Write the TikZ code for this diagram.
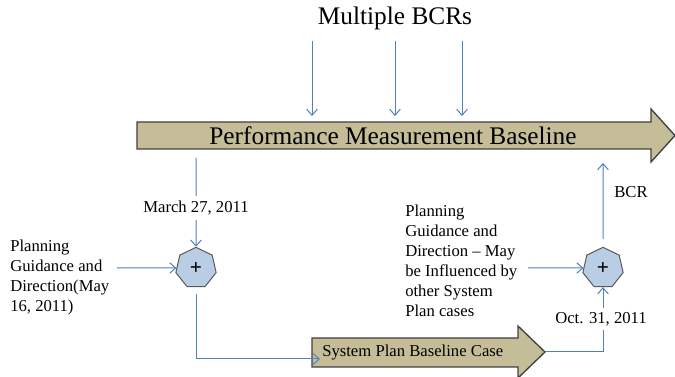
\documentclass[tikz,border=0pt]{standalone}
\usepackage{fontspec}
\setmainfont{Liberation Serif}
\usetikzlibrary{shapes.geometric,arrows.meta}

\definecolor{pmbtan}{HTML}{C4BD97}
\definecolor{linkblue}{HTML}{4F81BD}
\definecolor{plusfill}{HTML}{B9CDE5}

\def\bigsize{\fontsize{19}{23}\selectfont}
\def\smallsize{\fontsize{12.5}{15}\selectfont}

\begin{document}
\begin{tikzpicture}[x=0.75pt, y=-0.75pt, >={Straight Barb[length=4.5pt,width=8pt]}]
    \tikzstyle{link}=[->, draw=linkblue, line width=0.75pt]
    \tikzstyle{bar}=[-, draw=black!75, line width=1pt, fill=pmbtan]
    \tikzstyle{plus}=[regular polygon, regular polygon sides=7, minimum size=31pt, inner sep=0pt,
        draw=black!65, line width=0.75pt, fill=plusfill, font=\bfseries\fontsize{16}{16}\selectfont]
    \tikzstyle{note}=[align=left, anchor=west, inner sep=0pt, font=\smallsize]
    \tikzstyle{date}=[fill=white, inner xsep=2pt, inner ysep=3.5pt, font=\smallsize]

    \useasboundingbox (0,0) rectangle (675,377);

    \draw[bar] (137,122) -- (651,122) -- (651,109) -- (675,135.5) -- (651,162) -- (651,149) -- (137,149) -- cycle;
    \draw[bar] (312,338) -- (518,338) -- (518,326) -- (545,352) -- (518,378) -- (518,367) -- (312,367) -- cycle;

    \node[font=\bigsize] (bcrs) at (395,18) {Multiple BCRs};
    \node[font=\bigsize] (pmb) at (393,136) {Performance Measurement Baseline};
    \node[font=\smallsize, anchor=base west, inner sep=0pt] (spbc) at (322,357) {System Plan Baseline Case};

    \node[plus] (lplus) at (196,268) {+};
    \node[plus] (rplus) at (603,268) {+};

    \node[note] (lnote) at (10,277.5) {Planning\\Guidance and\\Direction(May\\16, 2011)};
    \node[note] (rnote) at (405,260.5) {Planning\\Guidance and\\Direction -- May\\be Influenced by\\other System\\Plan cases};
    \node[font=\smallsize] (bcr) at (631,192.5) {BCR};

    \foreach \i/\x in {1/312,2/395,3/462} {
        \coordinate (in-\i) at (\x,41);
        \coordinate (out-\i) at (\x,116);
        \draw[link] (in-\i) -- (out-\i);
    }

    \coordinate (mstart) at (196,158);
    \coordinate (lfrom) at (117,268);
    \coordinate (rfrom) at (528,268);
    \coordinate (spin) at (320,359);
    \coordinate (sptip) at (545,352);
    \coordinate (bcrend) at (603,163);

    \draw[link] (mstart) -- (lplus.north);
    \draw[link] (lfrom) -- (lplus.west);
    \draw[link] (rfrom) -- (rplus.west);
    \draw[link, shorten <=5.5pt] (lplus.south) |- (spin);
    \draw[link] (sptip) -| (rplus.south);
    \draw[link, shorten <=6pt] (rplus.north) -- (bcrend);

    \node[date] (march) at (196,208) {March 27, 2011};
    \node[date] (oct) at (601,319) {Oct. 31, 2011};
\end{tikzpicture}
\end{document}
